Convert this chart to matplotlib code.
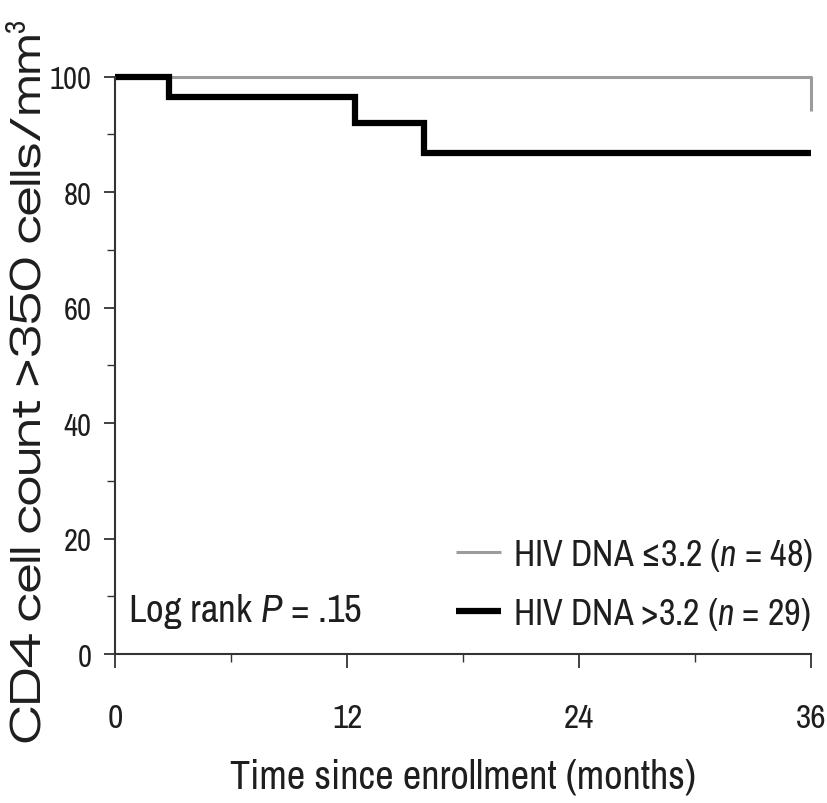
import matplotlib
matplotlib.use("Agg")
import matplotlib.pyplot as plt
from matplotlib.ticker import MultipleLocator
from matplotlib import font_manager

# Data (Kaplan-Meier step curves)
low_time = [0, 36, 36]
low_surv = [100, 100, 94]
high_time = [0, 2.8, 12.4, 16.0, 36]
high_surv = [100, 96.5, 92.0, 86.8, 86.8]
x_ticks = [0, 12, 24, 36]
y_ticks = [0, 20, 40, 60, 80, 100]
low_label = "HIV DNA \u22643.2 ($n$ = 48)"
high_label = "HIV DNA >3.2 ($n$ = 29)"
pval_text = "Log rank $P$ = .15"
x_title = "Time since enrollment (months)"
y_title = "CD4 cell count >350 cells/mm$^3$"

NARROW = 'Archivo Narrow'
names = {f.name for f in font_manager.fontManager.ttflist}
WIDE = 'Liberation Sans'
for cand in ['Zalando Sans Expanded', 'Encode Sans Expanded']:
    if cand in names:
        WIDE = cand
        break
plt.rcParams['font.family'] = [NARROW, 'DejaVu Sans']
plt.rcParams['mathtext.fontset'] = 'custom'
plt.rcParams['mathtext.it'] = NARROW + ':italic'
plt.rcParams['mathtext.rm'] = NARROW
TXT = '#1e1e1e'

fig = plt.figure(figsize=(8.27, 8.04), dpi=100)
ax = fig.add_axes([0.139, 0.1853, 0.842, 0.718])

ax.step(low_time, low_surv, where='post', color='#9c9c9c', lw=2.2, clip_on=False,
        label=low_label, solid_capstyle='butt')
ax.step(high_time, high_surv, where='post', color='black', lw=4.5, clip_on=False,
        label=high_label, solid_capstyle='butt', solid_joinstyle='miter')

ax.set_xlim(0, 36)
ax.set_ylim(0, 100)
ax.set_xticks(x_ticks)
ax.set_yticks(y_ticks)
ax.xaxis.set_minor_locator(MultipleLocator(6))
ax.yaxis.set_minor_locator(MultipleLocator(10))
for s in ['top', 'right']:
    ax.spines[s].set_visible(False)
for s in ['left', 'bottom']:
    ax.spines[s].set_linewidth(1.5)
    ax.spines[s].set_color('#333333')
ax.tick_params(axis='both', which='major', length=8, width=1.3, color='#333333',
               labelsize=22, labelcolor=TXT)
ax.tick_params(axis='both', which='minor', length=6, width=1.0, color='#333333')
ax.tick_params(axis='x', which='major', length=10, pad=25, labelsize=24)
ax.tick_params(axis='y', which='major', pad=9)

ax.set_xlabel(x_title, fontsize=29, color=TXT, labelpad=18)

r = fig.canvas.get_renderer()

# y title: fit its length to the reference, but keep its thickness from touching tick labels
ylab = fig.text(49 / 827, 1 - 382 / 804, y_title, rotation=90, ha='right', va='center',
                fontsize=30, color=TXT, family=[WIDE, 'DejaVu Sans'])
bb = ylab.get_window_extent(r)
fs = 30 * 725 / bb.height
fs = min(fs, 30 * 40 / bb.width)
ylab.set_fontsize(fs)

def make_legend(fs):
    return ax.legend(loc='lower right', bbox_to_anchor=(1.003, 0.039), frameon=False,
                     fontsize=fs, handlelength=1.25, handletextpad=0.35, labelspacing=0.6,
                     borderaxespad=0.0, borderpad=0.0)

leg = make_legend(28)
w = leg.get_texts()[0].get_window_extent(r).width
fs_leg = 28 * 300 / w
leg.remove()
leg = make_legend(fs_leg)
for t in leg.get_texts():
    t.set_color(TXT)

pt = ax.text(13 / 696, (655 - 612) / 577, pval_text, transform=ax.transAxes,
             fontsize=28, color=TXT, ha='left', va='center')
w = pt.get_window_extent(r).width
pt.set_fontsize(28 * 234 / w)

fig.savefig("out.png", dpi=100)
